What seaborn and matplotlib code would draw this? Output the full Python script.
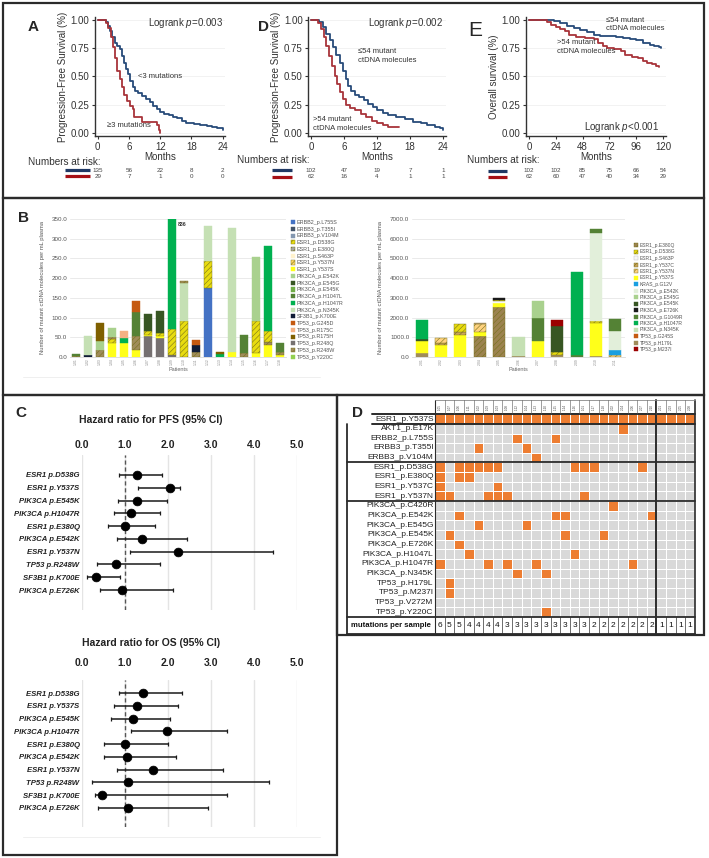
import numpy as np
import matplotlib
matplotlib.use('Agg')
import matplotlib.pyplot as plt
import matplotlib.transforms as mtrans
from matplotlib.colors import ListedColormap
from matplotlib.lines import Line2D
from matplotlib.patches import Rectangle, Patch
import seaborn as sns

sns.set_theme(style='white')
plt.rcParams['font.family'] = ['Liberation Sans', 'DejaVu Sans']
plt.rcParams['mathtext.fontset'] = 'custom'
plt.rcParams['mathtext.rm'] = 'Liberation Sans'
plt.rcParams['mathtext.it'] = 'Liberation Sans:italic'
plt.rcParams['hatch.linewidth'] = 0.4

# ---------------- DATA ----------------
# Panel A: PFS by number of mutations
a_blue_t = [0, 1.5, 1.9, 2.4, 2.8, 3.3, 3.8, 4.3, 4.7, 5.0, 5.4, 5.8, 6.2, 6.7, 7.2, 7.8, 8.5, 9.3, 10.0,
            10.7, 11.4, 12.0, 12.8, 13.6, 14.5, 15.3, 16.2, 17.0, 18.5, 19.7, 21.0, 22.0, 23.0, 24.0]
a_blue_s = [1.0, 0.98, 0.95, 0.90, 0.85, 0.80, 0.77, 0.74, 0.68, 0.62, 0.57, 0.52, 0.46, 0.41, 0.37, 0.35,
            0.33, 0.30, 0.27, 0.24, 0.21, 0.19, 0.17, 0.16, 0.14, 0.13, 0.11, 0.09, 0.08, 0.07, 0.06, 0.05, 0.04, 0.03]
a_red_t = [0, 1.6, 2.0, 2.5, 3.0, 3.3, 3.8, 4.2, 4.6, 5.1, 5.6, 6.2, 6.7, 7.0, 8.5, 11.3, 11.7, 12.0]
a_red_s = [1.0, 0.97, 0.93, 0.85, 0.76, 0.66, 0.55, 0.48, 0.41, 0.34, 0.28, 0.24, 0.21, 0.14, 0.10, 0.07, 0.03, 0.0]
a_risk_t = [0, 6, 12, 18, 24]
a_risk_blue = [135, 56, 22, 8, 2]
a_risk_red = [29, 7, 1, 0, 0]

# Panel D: PFS by mutant ctDNA molecules
d_blue_t = [0, 1.5, 2.2, 2.8, 3.4, 4.0, 4.6, 5.2, 5.8, 6.3, 6.8, 7.3, 8.0, 8.8, 9.6, 10.4, 11.2, 12.0, 13.0,
            14.0, 15.5, 17.0, 18.5, 20.0, 21.0, 22.5, 23.5, 24.0]
d_blue_s = [1.0, 0.98, 0.94, 0.88, 0.82, 0.76, 0.69, 0.62, 0.55, 0.48, 0.42, 0.37, 0.34, 0.32, 0.29, 0.26,
            0.23, 0.20, 0.18, 0.16, 0.14, 0.12, 0.10, 0.09, 0.07, 0.05, 0.04, 0.03]
d_red_t = [0, 1.2, 1.8, 2.3, 2.8, 3.3, 3.8, 4.3, 4.8, 5.3, 5.8, 6.3, 7.0, 8.0, 9.0, 10.0, 11.0, 12.0, 13.0, 14.0, 16.0]
d_red_s = [1.0, 0.97, 0.92, 0.85, 0.77, 0.68, 0.59, 0.50, 0.43, 0.36, 0.30, 0.25, 0.22, 0.20, 0.17, 0.14,
           0.11, 0.09, 0.07, 0.05, 0.05]
d_risk_t = [0, 6, 12, 18, 24]
d_risk_blue = [102, 47, 19, 7, 1]
d_risk_red = [62, 16, 4, 1, 1]

# Panel E: OS by mutant ctDNA molecules
e_blue_t = [0, 22, 28, 34, 40, 46, 52, 58, 64, 72, 78, 84, 90, 96, 102, 108, 112, 116, 118]
e_blue_s = [1.0, 0.99, 0.97, 0.95, 0.93, 0.91, 0.89, 0.87, 0.86, 0.86, 0.85, 0.84, 0.83, 0.82, 0.80, 0.78,
            0.77, 0.76, 0.75]
e_red_t = [0, 16, 20, 24, 28, 32, 36, 42, 50, 58, 62, 66, 70, 76, 82, 86, 92, 98, 102, 106, 110, 114, 116]
e_red_s = [1.0, 0.98, 0.96, 0.94, 0.92, 0.90, 0.87, 0.85, 0.84, 0.83, 0.80, 0.77, 0.75, 0.74, 0.73, 0.69,
           0.67, 0.66, 0.64, 0.62, 0.61, 0.59, 0.58]
e_risk_t = [0, 24, 48, 72, 96, 120]
e_risk_blue = [102, 102, 85, 75, 66, 54]
e_risk_red = [62, 60, 47, 40, 34, 29]

# Panel B left: mutant ctDNA molecules per mL plasma (stack segments bottom->top)
bl_names = ['ERBB2_p.L755S', 'ERBB3_p.T355I', 'ERBB3_p.V104M', 'ESR1_p.D538G', 'ESR1_p.E380Q', 'ESR1_p.S463P',
            'ESR1_p.Y537N', 'ESR1_p.Y537S', 'PIK3CA_p.E542K', 'PIK3CA_p.E545G', 'PIK3CA_p.E545K',
            'PIK3CA_p.H1047L', 'PIK3CA_p.H1047R', 'PIK3CA_p.N345K', 'SF3B1_p.K700E', 'TP53_p.G245D',
            'TP53_p.R175C', 'TP53_p.R175H', 'TP53_p.R248Q', 'TP53_p.R248W', 'TP53_p.Y220C']
bl_colors = ['#4472c4', '#44546a', '#8497b0', '#e8dc10', '#a5a5a5', '#fff2cc', '#ffd966', '#ffff1a',
             '#a9d18e', '#375623', '#70ad47', '#548235', '#00b050', '#c5e0b4', '#101c36', '#c55a11',
             '#f4b183', '#7f6000', '#767171', '#a08c5a', '#92d050']
bl_hatched = [0, 0, 0, 1, 1, 0, 1, 0, 0, 0, 0, 0, 0, 0, 0, 0, 0, 0, 0, 1, 0]
bl_patients = ['1-01', '1-02', '1-03', '1-04', '1-05', '1-06', '1-07', '1-08', '1-09', '1-10', '1-11', '1-12',
               '1-13', '1-14', '1-15', '1-16', '1-17', '1-18']
bl_seg_pat = [0, 0, 1, 1, 2, 2, 2, 3, 3, 3, 3, 4, 4, 4, 5, 5, 5, 5, 6, 6, 6, 6, 7, 7, 7, 7, 8, 8, 8,
              9, 9, 9, 10, 10, 10, 11, 11, 11, 12, 12, 13, 13, 14, 14, 15, 15, 15, 16, 16, 16, 16, 17, 17, 17]
bl_seg_mut = ['TP53_p.R248W', 'PIK3CA_p.H1047L',
              'SF3B1_p.K700E', 'PIK3CA_p.N345K',
              'TP53_p.R248W', 'PIK3CA_p.E542K', 'TP53_p.R175H',
              'ESR1_p.Y537S', 'ESR1_p.D538G', 'TP53_p.R248W', 'PIK3CA_p.E542K',
              'ESR1_p.Y537S', 'PIK3CA_p.H1047R', 'TP53_p.R175C',
              'ESR1_p.Y537S', 'TP53_p.R248W', 'PIK3CA_p.H1047L', 'TP53_p.G245D',
              'TP53_p.R248Q', 'ESR1_p.Y537S', 'ESR1_p.D538G', 'PIK3CA_p.E545G',
              'TP53_p.R248Q', 'ESR1_p.Y537S', 'ESR1_p.D538G', 'PIK3CA_p.E545G',
              'TP53_p.R248Q', 'ESR1_p.D538G', 'PIK3CA_p.H1047R',
              'ESR1_p.D538G', 'PIK3CA_p.N345K', 'TP53_p.R248W',
              'TP53_p.R248W', 'SF3B1_p.K700E', 'TP53_p.G245D',
              'ERBB2_p.L755S', 'ESR1_p.D538G', 'PIK3CA_p.N345K',
              'PIK3CA_p.H1047R', 'TP53_p.R175H',
              'ESR1_p.Y537S', 'PIK3CA_p.N345K',
              'TP53_p.R248W', 'PIK3CA_p.H1047L',
              'ESR1_p.Y537S', 'ESR1_p.D538G', 'PIK3CA_p.E542K',
              'ESR1_p.Y537S', 'TP53_p.R248W', 'ESR1_p.D538G', 'PIK3CA_p.H1047R',
              'ESR1_p.Y537S', 'TP53_p.R248W', 'PIK3CA_p.H1047L']
bl_seg_val = [2, 5,
              5, 47,
              18, 22, 45,
              35, 10, 5, 24,
              35, 12, 19,
              17, 35, 63, 28,
              52, 5, 8, 45,
              48, 6, 6, 56,
              5, 67, 764,
              92, 96, 5,
              13, 17, 14,
              175, 68, 88,
              8, 5,
              12, 314,
              10, 47,
              10, 82, 161,
              30, 8, 28, 216,
              5, 8, 23]

# Panel B right
br_names = ['ESR1_p.E380Q', 'ESR1_p.D538G', 'ESR1_p.S463P', 'ESR1_p.Y537C', 'ESR1_p.Y537N', 'ESR1_p.Y537S',
            'KRAS_p.G12V', 'PIK3CA_p.E542K', 'PIK3CA_p.E545G', 'PIK3CA_p.E545K', 'PIK3CA_p.E726K',
            'PIK3CA_p.G1049R', 'PIK3CA_p.H1047R', 'PIK3CA_p.N345K', 'TP53_p.G245S', 'TP53_p.H179L',
            'TP53_p.M237I']
br_colors = ['#9c8350', '#e8dc10', '#f7f7f7', '#c9a35a', '#ffd27f', '#ffff1a', '#1a9fe0', '#e2efda',
             '#a9d18e', '#375623', '#1a1a1a', '#548235', '#00b050', '#c5e0b4', '#c55a11', '#a08c5a', '#9b0000']
br_hatched = [1, 1, 0, 1, 1, 0, 0, 0, 0, 0, 0, 0, 0, 0, 0, 0, 0]
br_patients = ['2-01', '2-02', '2-03', '2-04', '2-05', '2-06', '2-07', '2-08', '2-09', '2-10', '2-11']
br_seg_pat = [0, 0, 0, 0, 1, 1, 1, 2, 2, 2, 3, 3, 3, 3, 4, 4, 4, 4, 4, 5, 5, 6, 6, 6,
              7, 7, 7, 7, 8, 8, 9, 9, 9, 9, 9, 10, 10, 10, 10]
br_seg_mut = ['TP53_p.H179L', 'ESR1_p.Y537S', 'PIK3CA_p.E545K', 'PIK3CA_p.H1047R',
              'ESR1_p.Y537S', 'ESR1_p.Y537C', 'ESR1_p.Y537N',
              'ESR1_p.Y537S', 'ESR1_p.Y537C', 'ESR1_p.D538G',
              'ESR1_p.E380Q', 'ESR1_p.Y537S', 'ESR1_p.Y537N', 'TP53_p.H179L',
              'ESR1_p.E380Q', 'ESR1_p.Y537S', 'ESR1_p.S463P', 'ESR1_p.D538G', 'PIK3CA_p.E726K',
              'TP53_p.H179L', 'PIK3CA_p.N345K',
              'ESR1_p.Y537S', 'PIK3CA_p.G1049R', 'PIK3CA_p.E545G',
              'TP53_p.H179L', 'ESR1_p.D538G', 'PIK3CA_p.E545K', 'TP53_p.M237I',
              'PIK3CA_p.G1049R', 'PIK3CA_p.H1047R',
              'TP53_p.H179L', 'ESR1_p.Y537S', 'ESR1_p.D538G', 'PIK3CA_p.E542K', 'PIK3CA_p.G1049R',
              'ESR1_p.Y537N', 'KRAS_p.G12V', 'PIK3CA_p.E542K', 'PIK3CA_p.G1049R']
br_seg_val = [180, 650, 100, 950,
              620, 100, 220,
              1100, 150, 400,
              1050, 200, 400, 70,
              2550, 170, 100, 70, 90,
              50, 950,
              800, 1170, 880,
              100, 150, 1300, 330,
              100, 4230,
              50, 1700, 80, 4450, 220,
              80, 300, 950, 620]

# Panel C: hazard ratios
fp_labels = ['ESR1 p.D538G', 'ESR1 p.Y537S', 'PIK3CA p.E545K', 'PIK3CA p.H1047R', 'ESR1 p.E380Q',
             'PIK3CA p.E542K', 'ESR1 p.Y537N', 'TP53 p.R248W', 'SF3B1 p.K700E', 'PIK3CA p.E726K']
pfs_hr = [1.28, 2.05, 1.28, 1.15, 1.01, 1.41, 2.25, 0.80, 0.33, 0.93]
pfs_lo = [0.87, 1.31, 0.85, 0.75, 0.62, 0.82, 1.13, 0.36, 0.13, 0.42]
pfs_hi = [1.86, 2.29, 1.98, 1.82, 1.71, 2.44, 4.46, 1.81, 0.90, 2.12]
os_hr = [1.43, 1.29, 1.19, 1.98, 1.01, 1.06, 1.65, 1.07, 0.48, 1.08]
os_lo = [0.87, 0.75, 0.69, 1.15, 0.52, 0.53, 0.81, 0.25, 0.30, 0.39]
os_hi = [2.33, 2.25, 2.05, 3.39, 2.00, 2.19, 3.29, 4.35, 3.38, 2.93]

# Panel D: mutation matrix
hm_rows = ['ESR1_p.Y537S', 'AKT1_p.E17K', 'ERBB2_p.L755S', 'ERBB3_p.T355I', 'ERBB3_p.V104M',
           'ESR1_p.D538G', 'ESR1_p.E380Q', 'ESR1_p.Y537C', 'ESR1_p.Y537N',
           'PIK3CA_p.C420R', 'PIK3CA_p.E542K', 'PIK3CA_p.E545G', 'PIK3CA_p.E545K', 'PIK3CA_p.E726K',
           'PIK3CA_p.H1047L', 'PIK3CA_p.H1047R', 'PIK3CA_p.N345K', 'TP53_p.H179L', 'TP53_p.M237I',
           'TP53_p.V272M', 'TP53_p.Y220C']
hm_hits = [list(range(27)), [19], [8, 12], [4, 9], [10],
           [0, 2, 3, 4, 5, 6, 14, 15, 16, 21], [0, 2, 3], [0, 6], [0, 1, 5, 6, 7, 15],
           [18], [2, 12, 13, 22], [4, 9], [1, 13, 17], [2], [3, 14], [0, 5, 7, 10, 20], [8, 11],
           [1], [1], [], [11]]
hm_samples = ['1-05', '1-07', '1-06', '1-11', '1-02', '1-09', '1-03', '1-08', '1-12', '1-04', '1-13', '1-10',
              '1-15', '1-14', '1-16', '1-01', '1-17', '1-18', '2-02', '2-04', '2-06', '2-07', '2-10',
              '2-01', '2-03', '2-05', '2-08']

# ---------------- LAYOUT HELPERS ----------------
W, H = 709, 858
fig = plt.figure(figsize=(W / 100, H / 100), dpi=100)


def box(x0, y0, x1, y1):
    return [x0 / W, 1 - y1 / H, (x1 - x0) / W, (y1 - y0) / H]


def fx(x):
    return x / W


def fy(y):
    return 1 - y / H


def ftext(x, y, s, **kw):
    fig.text(fx(x), fy(y), s, **kw)


def fline(x0, y0, x1, y1, **kw):
    fig.add_artist(Line2D([fx(x0), fx(x1)], [fy(y0), fy(y1)], transform=fig.transFigure, **kw))


def frect(x0, y0, x1, y1, **kw):
    fig.add_artist(Rectangle((fx(x0), fy(y1)), (x1 - x0) / W, (y1 - y0) / H, transform=fig.transFigure,
                             fill=False, **kw))


KM_BLUE, KM_RED = '#274b7a', '#a8343a'
RISK_BLUE, RISK_RED = '#1f3864', '#a50f15'
TXT = '#333333'


def km(ax, curves, xlim, xticks, ylabel):
    for t, s, c in curves:
        sns.lineplot(x=t, y=s, ax=ax, color=c, lw=1.3, drawstyle='steps-post', estimator=None, sort=False,
                     legend=False)
    ax.set_xlim(*xlim)
    ax.set_ylim(-0.03, 1.03)
    ax.set_xticks(xticks)
    yt = [0, 0.25, 0.5, 0.75, 1.0]
    ax.set_yticks(yt)
    ax.set_yticklabels([f'{v:.2f}' for v in yt])
    for sp in ['top', 'right']:
        ax.spines[sp].set_visible(False)
    for sp in ['left', 'bottom']:
        ax.spines[sp].set_color(TXT)
        ax.spines[sp].set_linewidth(1.0)
    ax.tick_params(labelsize=7, length=2.5, width=0.8, colors=TXT, pad=1.5, bottom=True, left=True)
    ax.grid(axis='y', color='#f0f0f0', lw=0.6)
    ax.grid(axis='x', visible=False)
    ax.set_xlabel('Months', fontsize=7, labelpad=0, color=TXT)
    ax.set_ylabel(ylabel, fontsize=7, labelpad=2, color=TXT)


def at_risk(ax, times, blue, red, xt, yt, xl0, xl1, yb, yr):
    ftext(xt, yt, 'Numbers at risk:', fontsize=7.2, color=TXT, va='center')
    fline(xl0, yb, xl1, yb, color=RISK_BLUE, lw=2.3, solid_capstyle='butt')
    fline(xl0, yr, xl1, yr, color=RISK_RED, lw=2.3, solid_capstyle='butt')
    tr = mtrans.blended_transform_factory(ax.transData, fig.transFigure)
    for t, b, r in zip(times, blue, red):
        ax.text(t, fy(yb), str(b), transform=tr, fontsize=4.5, ha='center', va='center', color='#444')
        ax.text(t, fy(yr), str(r), transform=tr, fontsize=4.5, ha='center', va='center', color='#444')


# ---------------- PANEL A ----------------
axA = fig.add_axes(box(95.1, 16.6, 225.3, 136.4))
km(axA, [(a_blue_t, a_blue_s, KM_BLUE), (a_red_t, a_red_s, KM_RED)], (-0.5, 24.5), [0, 6, 12, 18, 24],
   'Progression-Free Survival (%)')
axA.text(0.98, 0.92, 'Logrank $\\mathit{p}$=0.003', transform=axA.transAxes, fontsize=7, ha='right', color=TXT)
axA.text(7.8, 0.50, '<3 mutations', fontsize=5.5, color=TXT, va='center')
axA.text(1.8, 0.07, '\u22653 mutations', fontsize=5.5, color=TXT, va='center')
ftext(28, 27, 'A', fontsize=11, fontweight='bold', va='center')
at_risk(axA, a_risk_t, a_risk_blue, a_risk_red, 28, 162, 65, 90, 170, 176)

# ---------------- PANEL D (KM) ----------------
axD = fig.add_axes(box(308.3, 16.6, 445.8, 136.4))
km(axD, [(d_blue_t, d_blue_s, KM_BLUE), (d_red_t, d_red_s, KM_RED)], (-0.5, 24.5), [0, 6, 12, 18, 24],
   'Progression-Free Survival (%)')
axD.text(0.98, 0.92, 'Logrank $\\mathit{p}$=0.002', transform=axD.transAxes, fontsize=7, ha='right', color=TXT)
axD.text(8.6, 0.68, '\u226454 mutant\nctDNA molecules', fontsize=5.5, color=TXT, va='center', linespacing=1.3)
axD.text(0.3, 0.08, '>54 mutant\nctDNA molecules', fontsize=5.5, color=TXT, va='center', linespacing=1.3)
ftext(258, 27, 'D', fontsize=11, fontweight='bold', va='center')
at_risk(axD, d_risk_t, d_risk_blue, d_risk_red, 237, 160, 272, 292, 170, 177)

# ---------------- PANEL E ----------------
axE = fig.add_axes(box(525.6, 16.6, 666.4, 136.4))
km(axE, [(e_blue_t, e_blue_s, KM_BLUE), (e_red_t, e_red_s, KM_RED)], (-3, 123), [0, 24, 48, 72, 96, 120],
   'Overall survival (%)')
axE.text(0.95, 0.05, 'Logrank $\\mathit{p}$<0.001', transform=axE.transAxes, fontsize=7, ha='right', color=TXT)
axE.text(69, 0.96, '\u226454 mutant\nctDNA molecules', fontsize=5.5, color=TXT, va='center', linespacing=1.3)
axE.text(25, 0.76, '>54 mutant\nctDNA molecules', fontsize=5.5, color=TXT, va='center', linespacing=1.3)
ftext(468, 30, 'E', fontsize=15, va='center')
at_risk(axE, e_risk_t, e_risk_blue, e_risk_red, 467, 160, 488, 507, 171, 177)

# ---------------- PANEL B ----------------
def stacked(ax, n, pats, muts, vals, names, colors, hatched):
    bottoms = np.zeros(n)
    for p, m, v in zip(pats, muts, vals):
        i = names.index(m)
        h = hatched[i]
        ax.bar(p, v, bottom=bottoms[p], width=0.62, color=colors[i],
               edgecolor=('#77721c' if h else colors[i]), linewidth=0.3,
               hatch=('//////' if h else None), zorder=2)
        bottoms[p] += v
    return bottoms


def bar_axes(ax, n, labels, ymax, step):
    ax.set_xlim(-0.5, n - 0.5)
    ax.set_ylim(0, ymax)
    ax.set_yticks(np.arange(0, ymax + 1, step))
    ax.set_yticklabels([f'{v:.1f}' for v in np.arange(0, ymax + 1, step)])
    ax.set_xticks(range(n))
    ax.set_xticklabels(labels, rotation=90, fontsize=2.4, color='#888')
    ax.tick_params(axis='y', labelsize=4.5, colors='#555', length=0, pad=2)
    ax.tick_params(axis='x', length=0, pad=1)
    ax.grid(axis='y', color='#e6e6e6', lw=0.6, zorder=0)
    ax.grid(axis='x', visible=False)
    for sp in ['top', 'right', 'left']:
        ax.spines[sp].set_visible(False)
    ax.spines['bottom'].set_color('#d9d9d9')
    ax.spines['bottom'].set_linewidth(0.6)
    ax.set_xlabel('Patients', fontsize=4, color='#666', labelpad=1)
    ax.set_ylabel('Number of mutant ctDNA molecules per mL plasma', fontsize=4.2, color='#555', labelpad=5)


axBL = fig.add_axes(box(70, 219, 286, 357))
totL = stacked(axBL, len(bl_patients), bl_seg_pat, bl_seg_mut, bl_seg_val, bl_names, bl_colors, bl_hatched)
bar_axes(axBL, len(bl_patients), bl_patients, 350, 50)
big = int(np.argmax(totL))
axBL.text(big + 0.45, 337, f'{int(totL[big])}', fontsize=3.8, fontweight='bold', color='#333', va='center')
hL = [Patch(facecolor=c, edgecolor=('#77721c' if h else c), hatch=('//////' if h else None), lw=0.3)
      for c, h in zip(bl_colors, bl_hatched)]
fig.legend(hL, bl_names, loc='upper left', bbox_to_anchor=(fx(291), fy(220)), fontsize=3.9, frameon=False,
           handlelength=0.8, handleheight=0.8, handletextpad=0.3, labelspacing=0.32, borderaxespad=0,
           borderpad=0, labelcolor='#555')

axBR = fig.add_axes(box(412, 219, 625, 357))
stacked(axBR, len(br_patients), br_seg_pat, br_seg_mut, br_seg_val, br_names, br_colors, br_hatched)
bar_axes(axBR, len(br_patients), br_patients, 7000, 1000)
hR = [Patch(facecolor=c, edgecolor=('#77721c' if h else '#bbbbbb' if c == '#f7f7f7' else c),
            hatch=('//////' if h else None), lw=0.3) for c, h in zip(br_colors, br_hatched)]
fig.legend(hR, br_names, loc='upper left', bbox_to_anchor=(fx(634), fy(243)), fontsize=3.6, frameon=False,
           handlelength=0.8, handleheight=0.8, handletextpad=0.3, labelspacing=0.3, borderaxespad=0,
           borderpad=0, labelcolor='#555')
ftext(18, 218, 'B', fontsize=11, fontweight='bold', va='center')
fline(23, 377, 320, 377, color='#ececec', lw=0.6)

# ---------------- PANEL C ----------------
def forest(ax, hr, lo, hi, ylim, pad):
    hr, lo, hi = np.array(hr), np.array(lo), np.array(hi)
    y = np.arange(len(fp_labels))
    ax.errorbar(hr, y, xerr=[hr - lo, hi - hr], fmt='none', ecolor='#1a1a1a', elinewidth=1.1, capsize=1.6,
                capthick=0.9, zorder=2)
    sns.scatterplot(x=hr, y=y, ax=ax, color='black', s=40, edgecolor='black', zorder=3, legend=False)
    ax.axvline(1.0, color='#555', ls=(0, (3, 2)), lw=1.0, zorder=1)
    ax.set_xlim(0, 5)
    ax.set_ylim(*ylim)
    ax.set_xticks(range(6))
    ax.set_xticklabels([f'{v:.1f}' for v in range(6)], fontweight='bold')
    ax.xaxis.tick_top()
    ax.grid(axis='x', color='#e4e4e4', lw=1.0)
    ax.grid(axis='y', visible=False)
    for sp in ax.spines.values():
        sp.set_visible(False)
    ax.set_yticks(y)
    ax.set_yticklabels(fp_labels, fontsize=5.6, fontweight='bold', fontstyle='italic', color='#222')
    ax.tick_params(axis='x', labelsize=7.5, length=0, pad=pad, colors='#222', top=False)
    ax.tick_params(axis='y', length=0, pad=1.5)
    ax.set_xlabel('')
    ax.set_ylabel('')


axP = fig.add_axes(box(81.7, 455, 296.7, 610))
forest(axP, pfs_hr, pfs_lo, pfs_hi, (10.56, -1.56), 3.4)
ftext(151, 420, 'Hazard ratio for PFS (95% CI)', fontsize=7.5, fontweight='bold', ha='center', va='center',
      color='#222')
axO = fig.add_axes(box(81.7, 680, 296.7, 827))
forest(axO, os_hr, os_lo, os_hi, (10.49, -1.02), 9.0)
ftext(151, 643, 'Hazard ratio for OS (95% CI)', fontsize=7.5, fontweight='bold', ha='center', va='center',
      color='#222')
ftext(15, 413, 'C', fontsize=11, fontweight='bold', va='center')
fline(23, 837, 320, 837, color='#ececec', lw=0.6)

# ---------------- PANEL D (heatmap) ----------------
mat = np.zeros((len(hm_rows), len(hm_samples)))
for r, cols in enumerate(hm_hits):
    mat[r, cols] = 1
axH = fig.add_axes(box(435, 414.2, 695, 616.9))
sns.heatmap(mat, ax=axH, cmap=ListedColormap(['#d9d9d9', '#ed7d31']), vmin=0, vmax=1, cbar=False,
            linewidths=0.7, linecolor='white', xticklabels=False, yticklabels=hm_rows)
axH.tick_params(axis='y', length=0, pad=1, labelsize=6.0, rotation=0, colors='#222', left=False)
nr, nc = mat.shape
xl = -(435 - 347) / ((695 - 435) / nc)
xtop = -(435 - 372) / ((695 - 435) / nc)
hdr = -(414.2 - 400) / ((616.9 - 414.2) / nr)
mrow = nr + (634 - 616.9) / ((616.9 - 414.2) / nr)
kw = dict(color='#2b2b2b', clip_on=False)
axH.plot([xtop, nc], [0, 0], lw=1.4, **kw)
axH.plot([xtop, nc], [1, 1], lw=1.4, **kw)
for yy in [5, 9, nr, mrow]:
    axH.plot([xl, nc], [yy, yy], lw=1.3, **kw)
axH.plot([xl, xl], [1, mrow], lw=1.3, **kw)
axH.plot([0, 0], [hdr, mrow], lw=0.8, **kw)
axH.plot([nc, nc], [hdr, mrow], lw=1.2, **kw)
axH.plot([23, 23], [hdr, mrow], lw=1.4, **kw)
axH.plot([0, nc], [hdr, hdr], lw=0.6, color='#888', clip_on=False)
for j in range(1, nc):
    axH.plot([j, j], [hdr, 0], lw=0.4, color='#555', clip_on=False)
    axH.plot([j, j], [nr, mrow], lw=0.5, color='#333', clip_on=False)
for j, sid in enumerate(hm_samples):
    axH.text(j + 0.5, hdr / 2, sid, rotation=90, fontsize=2.2, ha='center', va='center', color='#444',
             clip_on=False)
counts = mat.sum(axis=0).astype(int)
for j, cnt in enumerate(counts):
    axH.text(j + 0.5, (nr + mrow) / 2, str(cnt), fontsize=6, ha='center', va='center', color='#111',
             clip_on=False)
axH.text(xl / 2, (nr + mrow) / 2, 'mutations per sample', fontsize=5.6, fontweight='bold', ha='center',
         va='center', color='#111', clip_on=False)
ftext(352, 413, 'D', fontsize=11, fontweight='bold', va='center')

# ---------------- PANEL BORDERS ----------------
bk = dict(ec='#2b2b2b', lw=1.6)
frect(3, 3, 704, 198, **bk)
frect(3, 198, 704, 395, **bk)
frect(3, 395, 337, 855, **bk)
frect(337, 395, 704, 635, **bk)

fig.savefig('out.png', dpi=100)
